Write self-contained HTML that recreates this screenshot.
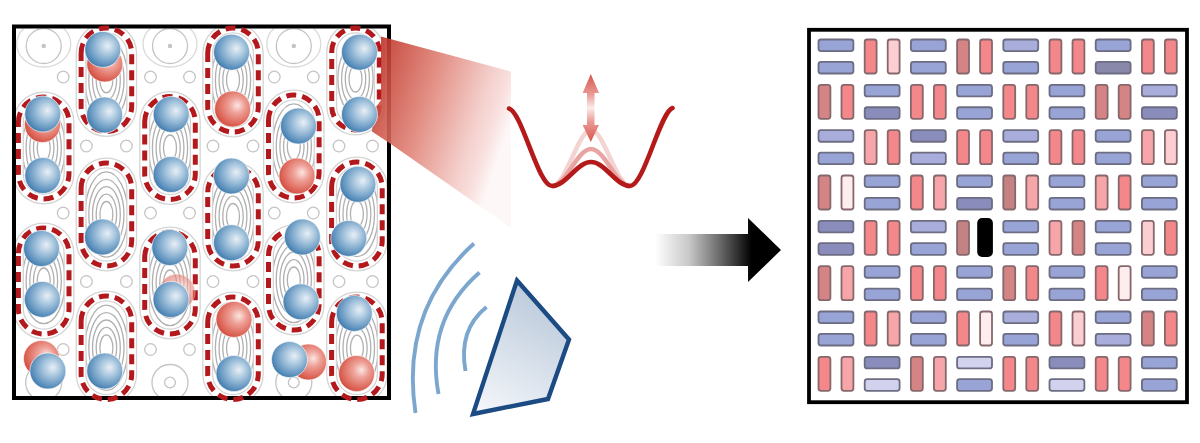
<!DOCTYPE html>
<html><head><meta charset="utf-8"><style>
html,body{margin:0;padding:0;background:#fff;}
svg{display:block;}
</style></head><body>
<svg width="1200" height="443" viewBox="0 0 1200 443">

<defs>
<radialGradient id="sb" cx="0.58" cy="0.42" r="0.68" fx="0.64" fy="0.4">
  <stop offset="0" stop-color="#e8eff6"/>
  <stop offset="0.35" stop-color="#a8c6de"/>
  <stop offset="0.75" stop-color="#5e92be"/>
  <stop offset="1" stop-color="#2e6ca2"/>
</radialGradient>
<radialGradient id="sr" cx="0.58" cy="0.42" r="0.68" fx="0.64" fy="0.4">
  <stop offset="0" stop-color="#fbe6e2"/>
  <stop offset="0.32" stop-color="#eea198"/>
  <stop offset="0.75" stop-color="#dc6456"/>
  <stop offset="1" stop-color="#c63f30"/>
</radialGradient>
<linearGradient id="beam" gradientUnits="userSpaceOnUse" x1="377" y1="0" x2="518" y2="0">
  <stop offset="0" stop-color="#c63a30" stop-opacity="0.95"/>
  <stop offset="0.5" stop-color="#e07a72" stop-opacity="0.6"/>
  <stop offset="1" stop-color="#f4c8c4" stop-opacity="0"/>
</linearGradient>
<linearGradient id="beam2" gradientUnits="userSpaceOnUse" x1="377" y1="62" x2="515" y2="108">
  <stop offset="0" stop-color="#c2382c"/>
  <stop offset="0.4" stop-color="#df8276"/>
  <stop offset="0.75" stop-color="#f2c6c2"/>
  <stop offset="0.9" stop-color="#f8dedc"/>
  <stop offset="1" stop-color="#fdf6f6"/>
</linearGradient>
<linearGradient id="arr" gradientUnits="userSpaceOnUse" x1="655" y1="0" x2="752" y2="0">
  <stop offset="0" stop-color="#ffffff"/>
  <stop offset="0.35" stop-color="#c8c8c8"/>
  <stop offset="0.7" stop-color="#606060"/>
  <stop offset="1" stop-color="#000000"/>
</linearGradient>
<linearGradient id="dbl" gradientUnits="userSpaceOnUse" x1="0" y1="74" x2="0" y2="142">
  <stop offset="0" stop-color="#d9544e"/>
  <stop offset="0.3" stop-color="#ea9a94"/>
  <stop offset="0.5" stop-color="#fbecea"/>
  <stop offset="0.7" stop-color="#ea9a94"/>
  <stop offset="1" stop-color="#d9544e"/>
</linearGradient>
<linearGradient id="spk" x1="0.6" y1="0" x2="0.2" y2="1">
  <stop offset="0" stop-color="#b9c8da"/>
  <stop offset="1" stop-color="#f2f5f9"/>
</linearGradient>
</defs>

<rect width="1200" height="443" fill="#fff"/>
<clipPath id="lbox"><rect x="16" y="28.5" width="371" height="367.5"/></clipPath>
<g clip-path="url(#lbox)">
<g fill="none" stroke="#c4c4c4" stroke-width="1.3">
<ellipse cx="43.7" cy="148.0" rx="6.5" ry="13.0" stroke="#b0b0b0"/>
<ellipse cx="43.7" cy="148.0" rx="10.2" ry="20.4" stroke="#b0b0b0"/>
<ellipse cx="43.7" cy="148.0" rx="13.9" ry="27.8" stroke="#b0b0b0"/>
<ellipse cx="43.7" cy="148.0" rx="17.6" ry="35.2" stroke="#b0b0b0"/>
<ellipse cx="43.7" cy="148.0" rx="21.3" ry="42.6" stroke="#b0b0b0"/>
<ellipse cx="43.7" cy="281.0" rx="6.5" ry="13.0" stroke="#b0b0b0"/>
<ellipse cx="43.7" cy="281.0" rx="10.2" ry="20.4" stroke="#b0b0b0"/>
<ellipse cx="43.7" cy="281.0" rx="13.9" ry="27.8" stroke="#b0b0b0"/>
<ellipse cx="43.7" cy="281.0" rx="17.6" ry="35.2" stroke="#b0b0b0"/>
<ellipse cx="43.7" cy="281.0" rx="21.3" ry="42.6" stroke="#b0b0b0"/>
<ellipse cx="106.4" cy="79.8" rx="6.5" ry="13.0" stroke="#b0b0b0"/>
<ellipse cx="106.4" cy="79.8" rx="10.2" ry="20.4" stroke="#b0b0b0"/>
<ellipse cx="106.4" cy="79.8" rx="13.9" ry="27.8" stroke="#b0b0b0"/>
<ellipse cx="106.4" cy="79.8" rx="17.6" ry="35.2" stroke="#b0b0b0"/>
<ellipse cx="106.4" cy="79.8" rx="21.3" ry="42.6" stroke="#b0b0b0"/>
<ellipse cx="106.4" cy="214.5" rx="6.5" ry="13.0" stroke="#b0b0b0"/>
<ellipse cx="106.4" cy="214.5" rx="10.2" ry="20.4" stroke="#b0b0b0"/>
<ellipse cx="106.4" cy="214.5" rx="13.9" ry="27.8" stroke="#b0b0b0"/>
<ellipse cx="106.4" cy="214.5" rx="17.6" ry="35.2" stroke="#b0b0b0"/>
<ellipse cx="106.4" cy="214.5" rx="21.3" ry="42.6" stroke="#b0b0b0"/>
<ellipse cx="106.4" cy="347.8" rx="6.5" ry="13.0" stroke="#b0b0b0"/>
<ellipse cx="106.4" cy="347.8" rx="10.2" ry="20.4" stroke="#b0b0b0"/>
<ellipse cx="106.4" cy="347.8" rx="13.9" ry="27.8" stroke="#b0b0b0"/>
<ellipse cx="106.4" cy="347.8" rx="17.6" ry="35.2" stroke="#b0b0b0"/>
<ellipse cx="106.4" cy="347.8" rx="21.3" ry="42.6" stroke="#b0b0b0"/>
<ellipse cx="170.0" cy="148.0" rx="6.5" ry="13.0" stroke="#b0b0b0"/>
<ellipse cx="170.0" cy="148.0" rx="10.2" ry="20.4" stroke="#b0b0b0"/>
<ellipse cx="170.0" cy="148.0" rx="13.9" ry="27.8" stroke="#b0b0b0"/>
<ellipse cx="170.0" cy="148.0" rx="17.6" ry="35.2" stroke="#b0b0b0"/>
<ellipse cx="170.0" cy="148.0" rx="21.3" ry="42.6" stroke="#b0b0b0"/>
<ellipse cx="170.0" cy="283.0" rx="6.5" ry="13.0" stroke="#b0b0b0"/>
<ellipse cx="170.0" cy="283.0" rx="10.2" ry="20.4" stroke="#b0b0b0"/>
<ellipse cx="170.0" cy="283.0" rx="13.9" ry="27.8" stroke="#b0b0b0"/>
<ellipse cx="170.0" cy="283.0" rx="17.6" ry="35.2" stroke="#b0b0b0"/>
<ellipse cx="170.0" cy="283.0" rx="21.3" ry="42.6" stroke="#b0b0b0"/>
<ellipse cx="233.0" cy="80.0" rx="6.5" ry="13.0" stroke="#b0b0b0"/>
<ellipse cx="233.0" cy="80.0" rx="10.2" ry="20.4" stroke="#b0b0b0"/>
<ellipse cx="233.0" cy="80.0" rx="13.9" ry="27.8" stroke="#b0b0b0"/>
<ellipse cx="233.0" cy="80.0" rx="17.6" ry="35.2" stroke="#b0b0b0"/>
<ellipse cx="233.0" cy="80.0" rx="21.3" ry="42.6" stroke="#b0b0b0"/>
<ellipse cx="233.0" cy="216.5" rx="6.5" ry="13.0" stroke="#b0b0b0"/>
<ellipse cx="233.0" cy="216.5" rx="10.2" ry="20.4" stroke="#b0b0b0"/>
<ellipse cx="233.0" cy="216.5" rx="13.9" ry="27.8" stroke="#b0b0b0"/>
<ellipse cx="233.0" cy="216.5" rx="17.6" ry="35.2" stroke="#b0b0b0"/>
<ellipse cx="233.0" cy="216.5" rx="21.3" ry="42.6" stroke="#b0b0b0"/>
<ellipse cx="233.0" cy="348.2" rx="6.5" ry="13.0" stroke="#b0b0b0"/>
<ellipse cx="233.0" cy="348.2" rx="10.2" ry="20.4" stroke="#b0b0b0"/>
<ellipse cx="233.0" cy="348.2" rx="13.9" ry="27.8" stroke="#b0b0b0"/>
<ellipse cx="233.0" cy="348.2" rx="17.6" ry="35.2" stroke="#b0b0b0"/>
<ellipse cx="233.0" cy="348.2" rx="21.3" ry="42.6" stroke="#b0b0b0"/>
<ellipse cx="293.8" cy="146.5" rx="6.5" ry="13.0" stroke="#b0b0b0"/>
<ellipse cx="293.8" cy="146.5" rx="10.2" ry="20.4" stroke="#b0b0b0"/>
<ellipse cx="293.8" cy="146.5" rx="13.9" ry="27.8" stroke="#b0b0b0"/>
<ellipse cx="293.8" cy="146.5" rx="17.6" ry="35.2" stroke="#b0b0b0"/>
<ellipse cx="293.8" cy="146.5" rx="21.3" ry="42.6" stroke="#b0b0b0"/>
<ellipse cx="293.8" cy="280.0" rx="6.5" ry="13.0" stroke="#b0b0b0"/>
<ellipse cx="293.8" cy="280.0" rx="10.2" ry="20.4" stroke="#b0b0b0"/>
<ellipse cx="293.8" cy="280.0" rx="13.9" ry="27.8" stroke="#b0b0b0"/>
<ellipse cx="293.8" cy="280.0" rx="17.6" ry="35.2" stroke="#b0b0b0"/>
<ellipse cx="293.8" cy="280.0" rx="21.3" ry="42.6" stroke="#b0b0b0"/>
<ellipse cx="355.5" cy="79.0" rx="6.5" ry="13.0" stroke="#b0b0b0"/>
<ellipse cx="355.5" cy="79.0" rx="10.2" ry="20.4" stroke="#b0b0b0"/>
<ellipse cx="355.5" cy="79.0" rx="13.9" ry="27.8" stroke="#b0b0b0"/>
<ellipse cx="355.5" cy="79.0" rx="17.6" ry="35.2" stroke="#b0b0b0"/>
<ellipse cx="356.9" cy="214.0" rx="6.5" ry="13.0" stroke="#b0b0b0"/>
<ellipse cx="356.9" cy="214.0" rx="10.2" ry="20.4" stroke="#b0b0b0"/>
<ellipse cx="356.9" cy="214.0" rx="13.9" ry="27.8" stroke="#b0b0b0"/>
<ellipse cx="356.9" cy="214.0" rx="17.6" ry="35.2" stroke="#b0b0b0"/>
<ellipse cx="356.9" cy="214.0" rx="21.3" ry="42.6" stroke="#b0b0b0"/>
<ellipse cx="356.9" cy="348.2" rx="6.5" ry="13.0" stroke="#b0b0b0"/>
<ellipse cx="356.9" cy="348.2" rx="10.2" ry="20.4" stroke="#b0b0b0"/>
<ellipse cx="356.9" cy="348.2" rx="13.9" ry="27.8" stroke="#b0b0b0"/>
<ellipse cx="356.9" cy="348.2" rx="17.6" ry="35.2" stroke="#b0b0b0"/>
<ellipse cx="356.9" cy="348.2" rx="21.3" ry="42.6" stroke="#b0b0b0"/>
<ellipse cx="43.7" cy="44" rx="27" ry="23" stroke="#dadada"/>
<circle cx="43.7" cy="46" r="17.5"/>
<circle cx="43.7" cy="46" r="1.6" fill="#c8c8c8"/>
<circle cx="43.7" cy="382.5" r="18"/>
<circle cx="43.7" cy="382.5" r="5.4"/>
<circle cx="63.2" cy="77" r="5.8"/>
<circle cx="63.2" cy="213" r="5.8"/>
<circle cx="63.2" cy="349.5" r="5.8"/>
<ellipse cx="170.0" cy="44" rx="27" ry="23" stroke="#dadada"/>
<circle cx="170.0" cy="46" r="17.5"/>
<circle cx="170.0" cy="46" r="1.6" fill="#c8c8c8"/>
<circle cx="170.0" cy="382.5" r="18"/>
<circle cx="170.0" cy="382.5" r="5.4"/>
<circle cx="150.5" cy="77" r="5.8"/>
<circle cx="189.5" cy="77" r="5.8"/>
<circle cx="150.5" cy="213" r="5.8"/>
<circle cx="189.5" cy="213" r="5.8"/>
<circle cx="150.5" cy="349.5" r="5.8"/>
<circle cx="189.5" cy="349.5" r="5.8"/>
<ellipse cx="293.8" cy="44" rx="27" ry="23" stroke="#dadada"/>
<circle cx="293.8" cy="46" r="17.5"/>
<circle cx="293.8" cy="46" r="1.6" fill="#c8c8c8"/>
<circle cx="293.8" cy="382.5" r="18"/>
<circle cx="293.8" cy="382.5" r="5.4"/>
<circle cx="274.3" cy="77" r="5.8"/>
<circle cx="313.3" cy="77" r="5.8"/>
<circle cx="274.3" cy="213" r="5.8"/>
<circle cx="313.3" cy="213" r="5.8"/>
<circle cx="86.4" cy="146" r="5.8"/>
<circle cx="126.4" cy="146" r="5.8"/>
<circle cx="86.4" cy="281.5" r="5.8"/>
<circle cx="126.4" cy="281.5" r="5.8"/>
<circle cx="213.0" cy="146" r="5.8"/>
<circle cx="253.0" cy="146" r="5.8"/>
<circle cx="213.0" cy="281.5" r="5.8"/>
<circle cx="253.0" cy="281.5" r="5.8"/>
<circle cx="339.0" cy="146" r="5.8"/>
<circle cx="372.5" cy="146" r="5.8"/>
<circle cx="339.0" cy="281.5" r="5.8"/>
<circle cx="372.5" cy="281.5" r="5.8"/>
</g>
<g fill="none">
<path d="M18.4,122.3 A25.3,25.3 0 0 1 69.0,122.3 L69.0,173.7 A25.3,25.3 0 0 1 18.4,173.7 Z" stroke="#d4d4d4" stroke-width="11"/>
<path d="M18.4,253.3 A25.3,25.3 0 0 1 69.0,253.3 L69.0,308.7 A25.3,25.3 0 0 1 18.4,308.7 Z" stroke="#d4d4d4" stroke-width="11"/>
<path d="M81.1,53.3 A25.3,25.3 0 0 1 131.7,53.3 L131.7,106.2 A25.3,25.3 0 0 1 81.1,106.2 Z" stroke="#d4d4d4" stroke-width="11"/>
<path d="M81.1,188.3 A25.3,25.3 0 0 1 131.7,188.3 L131.7,240.7 A25.3,25.3 0 0 1 81.1,240.7 Z" stroke="#d4d4d4" stroke-width="11"/>
<path d="M81.1,321.3 A25.3,25.3 0 0 1 131.7,321.3 L131.7,374.2 A25.3,25.3 0 0 1 81.1,374.2 Z" stroke="#d4d4d4" stroke-width="11"/>
<path d="M144.7,121.8 A25.3,25.3 0 0 1 195.3,121.8 L195.3,174.2 A25.3,25.3 0 0 1 144.7,174.2 Z" stroke="#d4d4d4" stroke-width="11"/>
<path d="M144.7,257.3 A25.3,25.3 0 0 1 195.3,257.3 L195.3,308.7 A25.3,25.3 0 0 1 144.7,308.7 Z" stroke="#d4d4d4" stroke-width="11"/>
<path d="M207.7,53.3 A25.3,25.3 0 0 1 258.3,53.3 L258.3,106.7 A25.3,25.3 0 0 1 207.7,106.7 Z" stroke="#d4d4d4" stroke-width="11"/>
<path d="M207.7,192.3 A25.3,25.3 0 0 1 258.3,192.3 L258.3,240.7 A25.3,25.3 0 0 1 207.7,240.7 Z" stroke="#d4d4d4" stroke-width="11"/>
<path d="M207.7,322.3 A25.3,25.3 0 0 1 258.3,322.3 L258.3,374.2 A25.3,25.3 0 0 1 207.7,374.2 Z" stroke="#d4d4d4" stroke-width="11"/>
<path d="M268.5,120.3 A25.3,25.3 0 0 1 319.1,120.3 L319.1,172.7 A25.3,25.3 0 0 1 268.5,172.7 Z" stroke="#d4d4d4" stroke-width="11"/>
<path d="M268.5,255.3 A25.3,25.3 0 0 1 319.1,255.3 L319.1,304.7 A25.3,25.3 0 0 1 268.5,304.7 Z" stroke="#d4d4d4" stroke-width="11"/>
<path d="M331.7,51.8 A23.8,23.8 0 0 1 379.3,51.8 L379.3,106.2 A23.8,23.8 0 0 1 331.7,106.2 Z" stroke="#d4d4d4" stroke-width="11"/>
<path d="M331.6,187.3 A25.3,25.3 0 0 1 382.2,187.3 L382.2,240.7 A25.3,25.3 0 0 1 331.6,240.7 Z" stroke="#d4d4d4" stroke-width="11"/>
<path d="M331.6,322.3 A25.3,25.3 0 0 1 382.2,322.3 L382.2,374.2 A25.3,25.3 0 0 1 331.6,374.2 Z" stroke="#d4d4d4" stroke-width="11"/>
<path d="M18.4,122.3 A25.3,25.3 0 0 1 69.0,122.3 L69.0,173.7 A25.3,25.3 0 0 1 18.4,173.7 Z" stroke="#ffffff" stroke-width="8.4"/>
<path d="M18.4,253.3 A25.3,25.3 0 0 1 69.0,253.3 L69.0,308.7 A25.3,25.3 0 0 1 18.4,308.7 Z" stroke="#ffffff" stroke-width="8.4"/>
<path d="M81.1,53.3 A25.3,25.3 0 0 1 131.7,53.3 L131.7,106.2 A25.3,25.3 0 0 1 81.1,106.2 Z" stroke="#ffffff" stroke-width="8.4"/>
<path d="M81.1,188.3 A25.3,25.3 0 0 1 131.7,188.3 L131.7,240.7 A25.3,25.3 0 0 1 81.1,240.7 Z" stroke="#ffffff" stroke-width="8.4"/>
<path d="M81.1,321.3 A25.3,25.3 0 0 1 131.7,321.3 L131.7,374.2 A25.3,25.3 0 0 1 81.1,374.2 Z" stroke="#ffffff" stroke-width="8.4"/>
<path d="M144.7,121.8 A25.3,25.3 0 0 1 195.3,121.8 L195.3,174.2 A25.3,25.3 0 0 1 144.7,174.2 Z" stroke="#ffffff" stroke-width="8.4"/>
<path d="M144.7,257.3 A25.3,25.3 0 0 1 195.3,257.3 L195.3,308.7 A25.3,25.3 0 0 1 144.7,308.7 Z" stroke="#ffffff" stroke-width="8.4"/>
<path d="M207.7,53.3 A25.3,25.3 0 0 1 258.3,53.3 L258.3,106.7 A25.3,25.3 0 0 1 207.7,106.7 Z" stroke="#ffffff" stroke-width="8.4"/>
<path d="M207.7,192.3 A25.3,25.3 0 0 1 258.3,192.3 L258.3,240.7 A25.3,25.3 0 0 1 207.7,240.7 Z" stroke="#ffffff" stroke-width="8.4"/>
<path d="M207.7,322.3 A25.3,25.3 0 0 1 258.3,322.3 L258.3,374.2 A25.3,25.3 0 0 1 207.7,374.2 Z" stroke="#ffffff" stroke-width="8.4"/>
<path d="M268.5,120.3 A25.3,25.3 0 0 1 319.1,120.3 L319.1,172.7 A25.3,25.3 0 0 1 268.5,172.7 Z" stroke="#ffffff" stroke-width="8.4"/>
<path d="M268.5,255.3 A25.3,25.3 0 0 1 319.1,255.3 L319.1,304.7 A25.3,25.3 0 0 1 268.5,304.7 Z" stroke="#ffffff" stroke-width="8.4"/>
<path d="M331.7,51.8 A23.8,23.8 0 0 1 379.3,51.8 L379.3,106.2 A23.8,23.8 0 0 1 331.7,106.2 Z" stroke="#ffffff" stroke-width="8.4"/>
<path d="M331.6,187.3 A25.3,25.3 0 0 1 382.2,187.3 L382.2,240.7 A25.3,25.3 0 0 1 331.6,240.7 Z" stroke="#ffffff" stroke-width="8.4"/>
<path d="M331.6,322.3 A25.3,25.3 0 0 1 382.2,322.3 L382.2,374.2 A25.3,25.3 0 0 1 331.6,374.2 Z" stroke="#ffffff" stroke-width="8.4"/>
</g>
</g>
<rect x="14" y="26.5" width="375" height="371.5" fill="none" stroke="#000" stroke-width="4"/>
<g fill="none">
<path d="M18.4,122.3 A25.3,25.3 0 0 1 69.0,122.3 L69.0,173.7 A25.3,25.3 0 0 1 18.4,173.7 Z" stroke="#b3191c" stroke-width="5" stroke-dasharray="10 6"/>
<path d="M18.4,253.3 A25.3,25.3 0 0 1 69.0,253.3 L69.0,308.7 A25.3,25.3 0 0 1 18.4,308.7 Z" stroke="#b3191c" stroke-width="5" stroke-dasharray="10 6"/>
<path d="M81.1,53.3 A25.3,25.3 0 0 1 131.7,53.3 L131.7,106.2 A25.3,25.3 0 0 1 81.1,106.2 Z" stroke="#b3191c" stroke-width="5" stroke-dasharray="10 6"/>
<path d="M81.1,188.3 A25.3,25.3 0 0 1 131.7,188.3 L131.7,240.7 A25.3,25.3 0 0 1 81.1,240.7 Z" stroke="#b3191c" stroke-width="5" stroke-dasharray="10 6"/>
<path d="M81.1,321.3 A25.3,25.3 0 0 1 131.7,321.3 L131.7,374.2 A25.3,25.3 0 0 1 81.1,374.2 Z" stroke="#b3191c" stroke-width="5" stroke-dasharray="10 6"/>
<path d="M144.7,121.8 A25.3,25.3 0 0 1 195.3,121.8 L195.3,174.2 A25.3,25.3 0 0 1 144.7,174.2 Z" stroke="#b3191c" stroke-width="5" stroke-dasharray="10 6"/>
<path d="M144.7,257.3 A25.3,25.3 0 0 1 195.3,257.3 L195.3,308.7 A25.3,25.3 0 0 1 144.7,308.7 Z" stroke="#b3191c" stroke-width="5" stroke-dasharray="10 6"/>
<path d="M207.7,53.3 A25.3,25.3 0 0 1 258.3,53.3 L258.3,106.7 A25.3,25.3 0 0 1 207.7,106.7 Z" stroke="#b3191c" stroke-width="5" stroke-dasharray="10 6"/>
<path d="M207.7,192.3 A25.3,25.3 0 0 1 258.3,192.3 L258.3,240.7 A25.3,25.3 0 0 1 207.7,240.7 Z" stroke="#b3191c" stroke-width="5" stroke-dasharray="10 6"/>
<path d="M207.7,322.3 A25.3,25.3 0 0 1 258.3,322.3 L258.3,374.2 A25.3,25.3 0 0 1 207.7,374.2 Z" stroke="#b3191c" stroke-width="5" stroke-dasharray="10 6"/>
<path d="M268.5,120.3 A25.3,25.3 0 0 1 319.1,120.3 L319.1,172.7 A25.3,25.3 0 0 1 268.5,172.7 Z" stroke="#b3191c" stroke-width="5" stroke-dasharray="10 6"/>
<path d="M268.5,255.3 A25.3,25.3 0 0 1 319.1,255.3 L319.1,304.7 A25.3,25.3 0 0 1 268.5,304.7 Z" stroke="#b3191c" stroke-width="5" stroke-dasharray="10 6"/>
<path d="M331.7,51.8 A23.8,23.8 0 0 1 379.3,51.8 L379.3,106.2 A23.8,23.8 0 0 1 331.7,106.2 Z" stroke="#b3191c" stroke-width="5" stroke-dasharray="10 6"/>
<path d="M331.6,187.3 A25.3,25.3 0 0 1 382.2,187.3 L382.2,240.7 A25.3,25.3 0 0 1 331.6,240.7 Z" stroke="#b3191c" stroke-width="5" stroke-dasharray="10 6"/>
<path d="M331.6,322.3 A25.3,25.3 0 0 1 382.2,322.3 L382.2,374.2 A25.3,25.3 0 0 1 331.6,374.2 Z" stroke="#b3191c" stroke-width="5" stroke-dasharray="10 6"/>
</g>
<polygon points="381,36.6 511,71.6 511,228 389,142.8 372,131.5 374,110 381,100" fill="url(#beam2)" fill-opacity="0.9"/>
<circle cx="42.5" cy="124.5" r="18" fill="url(#sr)" stroke="#ffffff" stroke-width="0.8" stroke-opacity="0.8"/>
<circle cx="42.8" cy="114" r="18" fill="url(#sb)" stroke="#ffffff" stroke-width="0.8" stroke-opacity="0.8"/>
<circle cx="42.8" cy="175.5" r="18" fill="url(#sb)" stroke="#ffffff" stroke-width="0.8" stroke-opacity="0.8"/>
<circle cx="41.5" cy="248.5" r="18" fill="url(#sb)" stroke="#ffffff" stroke-width="0.8" stroke-opacity="0.8"/>
<circle cx="42.4" cy="299.4" r="18" fill="url(#sb)" stroke="#ffffff" stroke-width="0.8" stroke-opacity="0.8"/>
<circle cx="41.5" cy="358.5" r="18" fill="url(#sr)" stroke="#ffffff" stroke-width="0.8" stroke-opacity="0.8"/>
<circle cx="47.9" cy="371" r="18" fill="url(#sb)" stroke="#ffffff" stroke-width="0.8" stroke-opacity="0.8"/>
<circle cx="104.8" cy="64" r="18" fill="url(#sr)" stroke="#ffffff" stroke-width="0.8" stroke-opacity="0.8"/>
<circle cx="102.8" cy="49.4" r="18" fill="url(#sb)" stroke="#ffffff" stroke-width="0.8" stroke-opacity="0.8"/>
<circle cx="104.6" cy="115" r="18" fill="url(#sb)" stroke="#ffffff" stroke-width="0.8" stroke-opacity="0.8"/>
<circle cx="102.5" cy="237" r="18" fill="url(#sb)" stroke="#ffffff" stroke-width="0.8" stroke-opacity="0.8"/>
<circle cx="104.8" cy="371" r="18" fill="url(#sb)" stroke="#ffffff" stroke-width="0.8" stroke-opacity="0.8"/>
<circle cx="171.2" cy="114.4" r="18" fill="url(#sb)" stroke="#ffffff" stroke-width="0.8" stroke-opacity="0.8"/>
<circle cx="171" cy="174.5" r="18" fill="url(#sb)" stroke="#ffffff" stroke-width="0.8" stroke-opacity="0.8"/>
<circle cx="169.8" cy="247.5" r="18" fill="url(#sb)" stroke="#ffffff" stroke-width="0.8" stroke-opacity="0.8"/>
<circle cx="177" cy="292" r="18" fill="url(#sr)" stroke="#ffffff" stroke-width="0.8" stroke-opacity="0.8" opacity="0.6"/>
<circle cx="171" cy="299.5" r="18" fill="url(#sb)" stroke="#ffffff" stroke-width="0.8" stroke-opacity="0.8"/>
<circle cx="231.6" cy="52.2" r="18" fill="url(#sb)" stroke="#ffffff" stroke-width="0.8" stroke-opacity="0.8"/>
<circle cx="232.6" cy="109" r="18" fill="url(#sr)" stroke="#ffffff" stroke-width="0.8" stroke-opacity="0.8"/>
<circle cx="231.5" cy="176" r="18" fill="url(#sb)" stroke="#ffffff" stroke-width="0.8" stroke-opacity="0.8"/>
<circle cx="231.5" cy="242.7" r="18" fill="url(#sb)" stroke="#ffffff" stroke-width="0.8" stroke-opacity="0.8"/>
<circle cx="234" cy="319.4" r="18" fill="url(#sr)" stroke="#ffffff" stroke-width="0.8" stroke-opacity="0.8"/>
<circle cx="234" cy="373.5" r="18" fill="url(#sb)" stroke="#ffffff" stroke-width="0.8" stroke-opacity="0.8"/>
<circle cx="298.5" cy="126" r="18" fill="url(#sb)" stroke="#ffffff" stroke-width="0.8" stroke-opacity="0.8"/>
<circle cx="297" cy="176" r="18" fill="url(#sr)" stroke="#ffffff" stroke-width="0.8" stroke-opacity="0.8"/>
<circle cx="302.4" cy="237" r="18" fill="url(#sb)" stroke="#ffffff" stroke-width="0.8" stroke-opacity="0.8"/>
<circle cx="301" cy="301.8" r="18" fill="url(#sb)" stroke="#ffffff" stroke-width="0.8" stroke-opacity="0.8"/>
<circle cx="308.5" cy="362" r="18" fill="url(#sr)" stroke="#ffffff" stroke-width="0.8" stroke-opacity="0.8"/>
<circle cx="289.5" cy="359.6" r="18" fill="url(#sb)" stroke="#ffffff" stroke-width="0.8" stroke-opacity="0.8"/>
<circle cx="359.5" cy="52.2" r="18" fill="url(#sb)" stroke="#ffffff" stroke-width="0.8" stroke-opacity="0.8"/>
<circle cx="359.5" cy="114.4" r="18" fill="url(#sb)" stroke="#ffffff" stroke-width="0.8" stroke-opacity="0.8"/>
<circle cx="357.9" cy="184.3" r="18" fill="url(#sb)" stroke="#ffffff" stroke-width="0.8" stroke-opacity="0.8"/>
<circle cx="348.8" cy="238.4" r="18" fill="url(#sb)" stroke="#ffffff" stroke-width="0.8" stroke-opacity="0.8"/>
<circle cx="354.3" cy="313.4" r="18" fill="url(#sb)" stroke="#ffffff" stroke-width="0.8" stroke-opacity="0.8"/>
<circle cx="356.6" cy="373.5" r="18" fill="url(#sr)" stroke="#ffffff" stroke-width="0.8" stroke-opacity="0.8"/>
<path d="M552,186 C566,186 578,130 591,130 C604,130 616,186 630,186" fill="none" stroke="#f4d4d2" stroke-width="4.5"/>
<path d="M552,186 C566,186 577,149 591,149 C605,149 616,186 630,186" fill="none" stroke="#e8a4a0" stroke-width="4.5"/>
<path d="M509,108.5 C522,112 538,186 552,186 C566,186 577,162 591,162 C605,162 616,186 630,186 C644,186 660,112 672.5,108" fill="none" stroke="#b51a1a" stroke-width="4.6" stroke-linecap="round"/>
<path d="M590.8,74 L599,93 L594.5,93 L594.5,125 L599,125 L590.8,142 L582.6,125 L587,125 L587,93 L582.6,93 Z" fill="url(#dbl)"/>
<path d="M655,234 L748,234 L748,218 L781,250 L748,282 L748,266 L655,266 Z" fill="url(#arr)"/>
<g fill="none" stroke="#7ba7cf" stroke-width="3.9" stroke-linecap="butt">
<path d="M486.5,307 Q458,330 465.5,371"/>
<path d="M479.5,272.5 Q425,320 438.5,394"/>
<path d="M474,243.5 Q400,310 415.5,413"/>
</g>
<path d="M517,280.5 L569,339.5 L548,399 L473,414 Z" fill="url(#spk)" stroke="#1b4b82" stroke-width="4.4" stroke-linejoin="miter"/>
<g stroke="#6a6a76" stroke-width="1.8">
<rect x="818.50" y="39.50" width="34.90" height="11.60" rx="2.5" fill="#98a3d6" stroke="#6c6c82"/>
<rect x="818.50" y="61.90" width="34.90" height="11.60" rx="2.5" fill="#98a3d6" stroke="#6c6c82"/>
<rect x="864.70" y="39.50" width="11.90" height="34.00" rx="2.5" fill="#f3878a" stroke="#86686c"/>
<rect x="887.70" y="39.50" width="11.90" height="34.00" rx="2.5" fill="#fbcfd2" stroke="#86686c"/>
<rect x="910.90" y="39.50" width="34.90" height="11.60" rx="2.5" fill="#98a3d6" stroke="#6c6c82"/>
<rect x="910.90" y="61.90" width="34.90" height="11.60" rx="2.5" fill="#98a3d6" stroke="#6c6c82"/>
<rect x="957.10" y="39.50" width="11.90" height="34.00" rx="2.5" fill="#d58486" stroke="#86686c"/>
<rect x="980.10" y="39.50" width="11.90" height="34.00" rx="2.5" fill="#f3878a" stroke="#86686c"/>
<rect x="1003.30" y="39.50" width="34.90" height="11.60" rx="2.5" fill="#a9addb" stroke="#6c6c82"/>
<rect x="1003.30" y="61.90" width="34.90" height="11.60" rx="2.5" fill="#98a3d6" stroke="#6c6c82"/>
<rect x="1049.50" y="39.50" width="11.90" height="34.00" rx="2.5" fill="#f3878a" stroke="#86686c"/>
<rect x="1072.50" y="39.50" width="11.90" height="34.00" rx="2.5" fill="#f3878a" stroke="#86686c"/>
<rect x="1095.70" y="39.50" width="34.90" height="11.60" rx="2.5" fill="#98a3d6" stroke="#6c6c82"/>
<rect x="1095.70" y="61.90" width="34.90" height="11.60" rx="2.5" fill="#8a88aa" stroke="#6c6c82"/>
<rect x="1141.90" y="39.50" width="11.90" height="34.00" rx="2.5" fill="#f3878a" stroke="#86686c"/>
<rect x="1164.90" y="39.50" width="11.90" height="34.00" rx="2.5" fill="#f3878a" stroke="#86686c"/>
<rect x="818.50" y="84.83" width="11.90" height="34.00" rx="2.5" fill="#d58486" stroke="#86686c"/>
<rect x="841.50" y="84.83" width="11.90" height="34.00" rx="2.5" fill="#f3878a" stroke="#86686c"/>
<rect x="864.70" y="84.83" width="34.90" height="11.60" rx="2.5" fill="#98a3d6" stroke="#6c6c82"/>
<rect x="864.70" y="107.23" width="34.90" height="11.60" rx="2.5" fill="#8a8cbc" stroke="#6c6c82"/>
<rect x="910.90" y="84.83" width="11.90" height="34.00" rx="2.5" fill="#f3878a" stroke="#86686c"/>
<rect x="933.90" y="84.83" width="11.90" height="34.00" rx="2.5" fill="#f3878a" stroke="#86686c"/>
<rect x="957.10" y="84.83" width="34.90" height="11.60" rx="2.5" fill="#98a3d6" stroke="#6c6c82"/>
<rect x="957.10" y="107.23" width="34.90" height="11.60" rx="2.5" fill="#98a3d6" stroke="#6c6c82"/>
<rect x="1003.30" y="84.83" width="11.90" height="34.00" rx="2.5" fill="#f3878a" stroke="#86686c"/>
<rect x="1026.30" y="84.83" width="11.90" height="34.00" rx="2.5" fill="#f3878a" stroke="#86686c"/>
<rect x="1049.50" y="84.83" width="34.90" height="11.60" rx="2.5" fill="#98a3d6" stroke="#6c6c82"/>
<rect x="1049.50" y="107.23" width="34.90" height="11.60" rx="2.5" fill="#98a3d6" stroke="#6c6c82"/>
<rect x="1095.70" y="84.83" width="11.90" height="34.00" rx="2.5" fill="#d58486" stroke="#86686c"/>
<rect x="1118.70" y="84.83" width="11.90" height="34.00" rx="2.5" fill="#d58486" stroke="#86686c"/>
<rect x="1141.90" y="84.83" width="34.90" height="11.60" rx="2.5" fill="#a9addb" stroke="#6c6c82"/>
<rect x="1141.90" y="107.23" width="34.90" height="11.60" rx="2.5" fill="#8a8cbc" stroke="#6c6c82"/>
<rect x="818.50" y="130.16" width="34.90" height="11.60" rx="2.5" fill="#a9addb" stroke="#6c6c82"/>
<rect x="818.50" y="152.56" width="34.90" height="11.60" rx="2.5" fill="#98a3d6" stroke="#6c6c82"/>
<rect x="864.70" y="130.16" width="11.90" height="34.00" rx="2.5" fill="#f6a6a8" stroke="#86686c"/>
<rect x="887.70" y="130.16" width="11.90" height="34.00" rx="2.5" fill="#f3878a" stroke="#86686c"/>
<rect x="910.90" y="130.16" width="34.90" height="11.60" rx="2.5" fill="#8a8cbc" stroke="#6c6c82"/>
<rect x="910.90" y="152.56" width="34.90" height="11.60" rx="2.5" fill="#a9addb" stroke="#6c6c82"/>
<rect x="957.10" y="130.16" width="11.90" height="34.00" rx="2.5" fill="#f3878a" stroke="#86686c"/>
<rect x="980.10" y="130.16" width="11.90" height="34.00" rx="2.5" fill="#f3878a" stroke="#86686c"/>
<rect x="1003.30" y="130.16" width="34.90" height="11.60" rx="2.5" fill="#a9addb" stroke="#6c6c82"/>
<rect x="1003.30" y="152.56" width="34.90" height="11.60" rx="2.5" fill="#98a3d6" stroke="#6c6c82"/>
<rect x="1049.50" y="130.16" width="11.90" height="34.00" rx="2.5" fill="#f3878a" stroke="#86686c"/>
<rect x="1072.50" y="130.16" width="11.90" height="34.00" rx="2.5" fill="#f3878a" stroke="#86686c"/>
<rect x="1095.70" y="130.16" width="34.90" height="11.60" rx="2.5" fill="#98a3d6" stroke="#6c6c82"/>
<rect x="1095.70" y="152.56" width="34.90" height="11.60" rx="2.5" fill="#98a3d6" stroke="#6c6c82"/>
<rect x="1141.90" y="130.16" width="11.90" height="34.00" rx="2.5" fill="#f6a6a8" stroke="#86686c"/>
<rect x="1164.90" y="130.16" width="11.90" height="34.00" rx="2.5" fill="#fbcfd2" stroke="#86686c"/>
<rect x="818.50" y="175.49" width="11.90" height="34.00" rx="2.5" fill="#d58486" stroke="#86686c"/>
<rect x="841.50" y="175.49" width="11.90" height="34.00" rx="2.5" fill="#fdedef" stroke="#86686c"/>
<rect x="864.70" y="175.49" width="34.90" height="11.60" rx="2.5" fill="#98a3d6" stroke="#6c6c82"/>
<rect x="864.70" y="197.89" width="34.90" height="11.60" rx="2.5" fill="#98a3d6" stroke="#6c6c82"/>
<rect x="910.90" y="175.49" width="11.90" height="34.00" rx="2.5" fill="#f3878a" stroke="#86686c"/>
<rect x="933.90" y="175.49" width="11.90" height="34.00" rx="2.5" fill="#f6a6a8" stroke="#86686c"/>
<rect x="957.10" y="175.49" width="34.90" height="11.60" rx="2.5" fill="#98a3d6" stroke="#6c6c82"/>
<rect x="957.10" y="197.89" width="34.90" height="11.60" rx="2.5" fill="#8a8cbc" stroke="#6c6c82"/>
<rect x="1003.30" y="175.49" width="11.90" height="34.00" rx="2.5" fill="#c48282" stroke="#86686c"/>
<rect x="1026.30" y="175.49" width="11.90" height="34.00" rx="2.5" fill="#f6a6a8" stroke="#86686c"/>
<rect x="1049.50" y="175.49" width="34.90" height="11.60" rx="2.5" fill="#98a3d6" stroke="#6c6c82"/>
<rect x="1049.50" y="197.89" width="34.90" height="11.60" rx="2.5" fill="#98a3d6" stroke="#6c6c82"/>
<rect x="1095.70" y="175.49" width="11.90" height="34.00" rx="2.5" fill="#f6a6a8" stroke="#86686c"/>
<rect x="1118.70" y="175.49" width="11.90" height="34.00" rx="2.5" fill="#f3878a" stroke="#86686c"/>
<rect x="1141.90" y="175.49" width="34.90" height="11.60" rx="2.5" fill="#98a3d6" stroke="#6c6c82"/>
<rect x="1141.90" y="197.89" width="34.90" height="11.60" rx="2.5" fill="#98a3d6" stroke="#6c6c82"/>
<rect x="818.50" y="220.82" width="34.90" height="11.60" rx="2.5" fill="#8a8cbc" stroke="#6c6c82"/>
<rect x="818.50" y="243.22" width="34.90" height="11.60" rx="2.5" fill="#8a8cbc" stroke="#6c6c82"/>
<rect x="864.70" y="220.82" width="11.90" height="34.00" rx="2.5" fill="#f3878a" stroke="#86686c"/>
<rect x="887.70" y="220.82" width="11.90" height="34.00" rx="2.5" fill="#f3878a" stroke="#86686c"/>
<rect x="910.90" y="220.82" width="34.90" height="11.60" rx="2.5" fill="#a9addb" stroke="#6c6c82"/>
<rect x="910.90" y="243.22" width="34.90" height="11.60" rx="2.5" fill="#98a3d6" stroke="#6c6c82"/>
<rect x="957.10" y="220.82" width="11.90" height="34.00" rx="2.5" fill="#c48282" stroke="#86686c"/>
<rect x="978.10" y="219.02" width="13.90" height="37.00" rx="4" fill="#000" stroke="#000"/>
<rect x="1003.30" y="220.82" width="34.90" height="11.60" rx="2.5" fill="#98a3d6" stroke="#6c6c82"/>
<rect x="1003.30" y="243.22" width="34.90" height="11.60" rx="2.5" fill="#98a3d6" stroke="#6c6c82"/>
<rect x="1049.50" y="220.82" width="11.90" height="34.00" rx="2.5" fill="#f6a6a8" stroke="#86686c"/>
<rect x="1072.50" y="220.82" width="11.90" height="34.00" rx="2.5" fill="#d58486" stroke="#86686c"/>
<rect x="1095.70" y="220.82" width="34.90" height="11.60" rx="2.5" fill="#98a3d6" stroke="#6c6c82"/>
<rect x="1095.70" y="243.22" width="34.90" height="11.60" rx="2.5" fill="#98a3d6" stroke="#6c6c82"/>
<rect x="1141.90" y="220.82" width="11.90" height="34.00" rx="2.5" fill="#fbcfd2" stroke="#86686c"/>
<rect x="1164.90" y="220.82" width="11.90" height="34.00" rx="2.5" fill="#f3878a" stroke="#86686c"/>
<rect x="818.50" y="266.15" width="11.90" height="34.00" rx="2.5" fill="#d58486" stroke="#86686c"/>
<rect x="841.50" y="266.15" width="11.90" height="34.00" rx="2.5" fill="#f6a6a8" stroke="#86686c"/>
<rect x="864.70" y="266.15" width="34.90" height="11.60" rx="2.5" fill="#98a3d6" stroke="#6c6c82"/>
<rect x="864.70" y="288.55" width="34.90" height="11.60" rx="2.5" fill="#98a3d6" stroke="#6c6c82"/>
<rect x="910.90" y="266.15" width="11.90" height="34.00" rx="2.5" fill="#f3878a" stroke="#86686c"/>
<rect x="933.90" y="266.15" width="11.90" height="34.00" rx="2.5" fill="#f3878a" stroke="#86686c"/>
<rect x="957.10" y="266.15" width="34.90" height="11.60" rx="2.5" fill="#98a3d6" stroke="#6c6c82"/>
<rect x="957.10" y="288.55" width="34.90" height="11.60" rx="2.5" fill="#98a3d6" stroke="#6c6c82"/>
<rect x="1003.30" y="266.15" width="11.90" height="34.00" rx="2.5" fill="#d58486" stroke="#86686c"/>
<rect x="1026.30" y="266.15" width="11.90" height="34.00" rx="2.5" fill="#f3878a" stroke="#86686c"/>
<rect x="1049.50" y="266.15" width="34.90" height="11.60" rx="2.5" fill="#98a3d6" stroke="#6c6c82"/>
<rect x="1049.50" y="288.55" width="34.90" height="11.60" rx="2.5" fill="#98a3d6" stroke="#6c6c82"/>
<rect x="1095.70" y="266.15" width="11.90" height="34.00" rx="2.5" fill="#f3878a" stroke="#86686c"/>
<rect x="1118.70" y="266.15" width="11.90" height="34.00" rx="2.5" fill="#fdedef" stroke="#86686c"/>
<rect x="1141.90" y="266.15" width="34.90" height="11.60" rx="2.5" fill="#98a3d6" stroke="#6c6c82"/>
<rect x="1141.90" y="288.55" width="34.90" height="11.60" rx="2.5" fill="#98a3d6" stroke="#6c6c82"/>
<rect x="818.50" y="311.48" width="34.90" height="11.60" rx="2.5" fill="#98a3d6" stroke="#6c6c82"/>
<rect x="818.50" y="333.88" width="34.90" height="11.60" rx="2.5" fill="#98a3d6" stroke="#6c6c82"/>
<rect x="864.70" y="311.48" width="11.90" height="34.00" rx="2.5" fill="#f3878a" stroke="#86686c"/>
<rect x="887.70" y="311.48" width="11.90" height="34.00" rx="2.5" fill="#f6a6a8" stroke="#86686c"/>
<rect x="910.90" y="311.48" width="34.90" height="11.60" rx="2.5" fill="#98a3d6" stroke="#6c6c82"/>
<rect x="910.90" y="333.88" width="34.90" height="11.60" rx="2.5" fill="#98a3d6" stroke="#6c6c82"/>
<rect x="957.10" y="311.48" width="11.90" height="34.00" rx="2.5" fill="#f3878a" stroke="#86686c"/>
<rect x="980.10" y="311.48" width="11.90" height="34.00" rx="2.5" fill="#fdedef" stroke="#86686c"/>
<rect x="1003.30" y="311.48" width="34.90" height="11.60" rx="2.5" fill="#a9addb" stroke="#6c6c82"/>
<rect x="1003.30" y="333.88" width="34.90" height="11.60" rx="2.5" fill="#98a3d6" stroke="#6c6c82"/>
<rect x="1049.50" y="311.48" width="11.90" height="34.00" rx="2.5" fill="#f3878a" stroke="#86686c"/>
<rect x="1072.50" y="311.48" width="11.90" height="34.00" rx="2.5" fill="#fbcfd2" stroke="#86686c"/>
<rect x="1095.70" y="311.48" width="34.90" height="11.60" rx="2.5" fill="#98a3d6" stroke="#6c6c82"/>
<rect x="1095.70" y="333.88" width="34.90" height="11.60" rx="2.5" fill="#a9addb" stroke="#6c6c82"/>
<rect x="1141.90" y="311.48" width="11.90" height="34.00" rx="2.5" fill="#d58486" stroke="#86686c"/>
<rect x="1164.90" y="311.48" width="11.90" height="34.00" rx="2.5" fill="#f3878a" stroke="#86686c"/>
<rect x="818.50" y="356.81" width="11.90" height="34.00" rx="2.5" fill="#f3878a" stroke="#86686c"/>
<rect x="841.50" y="356.81" width="11.90" height="34.00" rx="2.5" fill="#f6a6a8" stroke="#86686c"/>
<rect x="864.70" y="356.81" width="34.90" height="11.60" rx="2.5" fill="#8a8cbc" stroke="#6c6c82"/>
<rect x="864.70" y="379.21" width="34.90" height="11.60" rx="2.5" fill="#d2d2ee" stroke="#6c6c82"/>
<rect x="910.90" y="356.81" width="11.90" height="34.00" rx="2.5" fill="#d58486" stroke="#86686c"/>
<rect x="933.90" y="356.81" width="11.90" height="34.00" rx="2.5" fill="#f6a6a8" stroke="#86686c"/>
<rect x="957.10" y="356.81" width="34.90" height="11.60" rx="2.5" fill="#d2d2ee" stroke="#6c6c82"/>
<rect x="957.10" y="379.21" width="34.90" height="11.60" rx="2.5" fill="#98a3d6" stroke="#6c6c82"/>
<rect x="1003.30" y="356.81" width="11.90" height="34.00" rx="2.5" fill="#f3878a" stroke="#86686c"/>
<rect x="1026.30" y="356.81" width="11.90" height="34.00" rx="2.5" fill="#f3878a" stroke="#86686c"/>
<rect x="1049.50" y="356.81" width="34.90" height="11.60" rx="2.5" fill="#8a8cbc" stroke="#6c6c82"/>
<rect x="1049.50" y="379.21" width="34.90" height="11.60" rx="2.5" fill="#d2d2ee" stroke="#6c6c82"/>
<rect x="1095.70" y="356.81" width="11.90" height="34.00" rx="2.5" fill="#f3878a" stroke="#86686c"/>
<rect x="1118.70" y="356.81" width="11.90" height="34.00" rx="2.5" fill="#f3878a" stroke="#86686c"/>
<rect x="1141.90" y="356.81" width="34.90" height="11.60" rx="2.5" fill="#98a3d6" stroke="#6c6c82"/>
<rect x="1141.90" y="379.21" width="34.90" height="11.60" rx="2.5" fill="#98a3d6" stroke="#6c6c82"/>
</g>
<rect x="809" y="29.8" width="378" height="372.4" fill="none" stroke="#000" stroke-width="3.8"/>
</svg>
</body></html>
